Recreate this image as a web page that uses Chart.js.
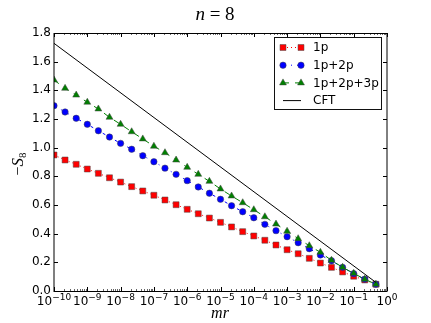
<!DOCTYPE html>
<html>
<head>
<meta charset="utf-8">
<script src="https://cdn.jsdelivr.net/npm/chart.js@4/dist/chart.umd.min.js"></script>
<style>
  html, body { margin: 0; padding: 0; background: #fff; }
  canvas { display: block; }
</style>
</head>
<body>
<canvas id="chart" width="431" height="323"></canvas>
<script>
// mr values (three points per decade)
const mr = [
  1.0e-10, 2.15e-10, 4.64e-10, 1.0e-9, 2.15e-9, 4.64e-9,
  1.0e-8, 2.15e-8, 4.64e-8, 1.0e-7, 2.15e-7, 4.64e-7,
  1.0e-6, 2.15e-6, 4.64e-6, 1.0e-5, 2.15e-5, 4.64e-5,
  1.0e-4, 2.15e-4, 4.64e-4, 1.0e-3, 2.15e-3, 4.64e-3,
  1.0e-2, 2.15e-2, 4.64e-2, 1.0e-1, 2.15e-1, 4.64e-1
]
const s1p = [
  0.949, 0.914, 0.884, 0.851, 0.821, 0.790, 0.760, 0.728, 0.698, 0.668,
  0.635, 0.602, 0.570, 0.539, 0.509, 0.479, 0.447, 0.414, 0.384, 0.354,
  0.321, 0.288, 0.260, 0.228, 0.195, 0.165, 0.133, 0.103, 0.077, 0.047
]
const s1p2p = [
  1.293, 1.249, 1.205, 1.163, 1.118, 1.074, 1.030, 0.989, 0.944, 0.902,
  0.857, 0.814, 0.770, 0.726, 0.682, 0.640, 0.595, 0.553, 0.511, 0.465,
  0.421, 0.379, 0.337, 0.295, 0.251, 0.211, 0.165, 0.121, 0.082, 0.047
]
const s1p2p3p = [
  1.472, 1.414, 1.367, 1.317, 1.270, 1.212, 1.163, 1.111, 1.061, 1.010,
  0.965, 0.914, 0.863, 0.814, 0.765, 0.712, 0.663, 0.616, 0.567, 0.518,
  0.467, 0.417, 0.365, 0.316, 0.270, 0.214, 0.165, 0.123, 0.082, 0.047
]
const cftX = [1.0e-10, 4.64e-1]
const cftY = [1.728, 0.06]

const xTicks = [1e-10, 1e-9, 1e-8, 1e-7, 1e-6, 1e-5, 1e-4, 1e-3, 1e-2, 1e-1, 1e0]
const yTicks = [0, 0.2, 0.4, 0.6, 0.8, 1.0, 1.2, 1.4, 1.6, 1.8]

const pts = (xs, ys) => xs.map((x, i) => ({ x: x, y: ys[i] }))
const expText = v => String(Math.round(Math.log10(v))).replace('-', '\u2212')

const TICK_FONT = { family: 'DejaVu Sans', size: 12 }

function drawMarker(ctx, style, x, y, r, fill, edge) {
  ctx.beginPath()
  if (style === 'rect') {
    const s = Math.SQRT1_2 * r
    ctx.rect(x - s, y - s, 2 * s, 2 * s)
  } else if (style === 'circle') {
    ctx.arc(x, y, r, 0, Math.PI * 2)
  } else if (style === 'triangle') {
    for (let k = 0; k < 3; k++) {
      const a = k * 2 * Math.PI / 3
      const px = x + Math.sin(a) * r, py = y - Math.cos(a) * r
      k === 0 ? ctx.moveTo(px, py) : ctx.lineTo(px, py)
    }
    ctx.closePath()
  } else return
  ctx.fillStyle = fill
  ctx.fill()
  ctx.lineWidth = 0.5
  ctx.strokeStyle = edge
  ctx.stroke()
}

function drawRuns(ctx, runs, x, y) {
  // runs: [{text, font, dy}] centred horizontally at x, baseline y
  let w = 0
  runs.forEach(r => { ctx.font = r.font; r.w = ctx.measureText(r.text).width; w += r.w })
  let cx = x - w / 2
  ctx.textAlign = 'left'
  ctx.textBaseline = 'alphabetic'
  runs.forEach(r => { ctx.font = r.font; ctx.fillText(r.text, cx, y + (r.dy || 0)); cx += r.w })
}

const decor = {
  id: 'decor',
  afterDraw(chart) {
    const { ctx, chartArea: a, scales: { x, y } } = chart
    ctx.save()
    ctx.strokeStyle = '#000'
    ctx.lineWidth = 1
    // inward ticks
    ctx.beginPath()
    yTicks.forEach(v => {
      const py = Math.round(y.getPixelForValue(v)) + 0.5
      ctx.moveTo(a.left, py); ctx.lineTo(a.left + 4, py)
      ctx.moveTo(a.right, py); ctx.lineTo(a.right - 4, py)
    })
    xTicks.forEach(v => {
      const px = Math.round(x.getPixelForValue(v)) + 0.5
      ctx.moveTo(px, a.bottom); ctx.lineTo(px, a.bottom - 4)
      ctx.moveTo(px, a.top); ctx.lineTo(px, a.top + 4)
    })
    ctx.stroke()
    ctx.lineWidth = 0.6
    ctx.beginPath()
    xTicks.slice(0, -1).forEach(d => {
      for (let m = 2; m <= 9; m++) {
        const px = Math.round(x.getPixelForValue(d * m)) + 0.5
        ctx.moveTo(px, a.bottom); ctx.lineTo(px, a.bottom - 2)
        ctx.moveTo(px, a.top); ctx.lineTo(px, a.top + 2)
      }
    })
    ctx.stroke()
    // frame
    ctx.lineWidth = 1
    ctx.strokeRect(a.left, a.top + 0.5, a.right - a.left, a.bottom - a.top)

    // x tick labels: 10 with a raised exponent
    ctx.fillStyle = '#000'
    xTicks.forEach(v => {
      drawRuns(ctx, [
        { text: '10', font: '12px "DejaVu Sans"' },
        { text: expText(v), font: '9px "DejaVu Sans"', dy: -5 }
      ], x.getPixelForValue(v), 305)
    })

    // legend
    const lx = 274.5, ly = 37.5, lw = 107, lh = 72
    ctx.fillStyle = '#fff'
    ctx.fillRect(lx, ly, lw, lh)
    ctx.strokeStyle = '#111'
    ctx.strokeRect(lx, ly, lw, lh)
    chart.data.datasets.forEach((ds, i) => {
      const ry = 47.5 + i * 17.7
      const x0 = 283, x1 = 301
      ctx.save()
      ctx.strokeStyle = ds.borderColor
      ctx.lineWidth = ds.borderWidth
      ctx.setLineDash(ds.borderDash || [])
      ctx.beginPath(); ctx.moveTo(x0, ry); ctx.lineTo(x1, ry); ctx.stroke()
      ctx.restore()
      if (ds.pointRadius > 0) {
        drawMarker(ctx, ds.pointStyle, x0, ry, ds.pointRadius, ds.pointBackgroundColor, ds.pointBorderColor)
        drawMarker(ctx, ds.pointStyle, x1, ry, ds.pointRadius, ds.pointBackgroundColor, ds.pointBorderColor)
      }
      ctx.fillStyle = '#000'
      ctx.font = '12px "DejaVu Sans"'
      ctx.textAlign = 'left'
      ctx.textBaseline = 'middle'
      ctx.fillText(ds.label, 313, ry + 0.5)
    })

    // title and axis labels
    ctx.fillStyle = '#000'
    drawRuns(ctx, [
      { text: 'n', font: 'italic 19px "Liberation Serif"' },
      { text: ' = 8', font: '19px "Liberation Serif"' }
    ], 215, 20)
    drawRuns(ctx, [{ text: 'mr', font: 'italic 16px "Liberation Serif"' }], 220, 318)
    ctx.translate(23, 164)
    ctx.rotate(-Math.PI / 2)
    drawRuns(ctx, [
      { text: '\u2212', font: '16px "Liberation Serif"' },
      { text: 'S', font: 'italic 17px "Liberation Serif"' },
      { text: '8', font: '11px "Liberation Serif"', dy: 3 }
    ], 0, 0)
    ctx.restore()
  }
}

const common = { borderWidth: 1, tension: 0, clip: 0, pointBorderColor: '#444', pointBorderWidth: 0.5 }

new Chart(document.getElementById('chart'), {
  type: 'line',
  data: {
    datasets: [
      Object.assign({}, common, {
        label: '1p', data: pts(mr, s1p), borderColor: '#ff0000', borderDash: [1, 3],
        pointStyle: 'rect', pointRadius: 4.2, pointBackgroundColor: '#ff0000', order: 3
      }),
      Object.assign({}, common, {
        label: '1p+2p', data: pts(mr, s1p2p), borderColor: '#0000ff', borderDash: [3, 5, 1, 5],
        pointStyle: 'circle', pointRadius: 3.2, pointBackgroundColor: '#0000ff', order: 2
      }),
      Object.assign({}, common, {
        label: '1p+2p+3p', data: pts(mr, s1p2p3p), borderColor: '#008000', borderDash: [6, 6],
        pointStyle: 'triangle', pointRadius: 4, pointBackgroundColor: '#008000', order: 1
      }),
      Object.assign({}, common, {
        label: 'CFT', data: pts(cftX, cftY), borderColor: '#000000', borderDash: [],
        pointRadius: 0, order: 0
      })
    ]
  },
  options: {
    responsive: false,
    animation: false,
    devicePixelRatio: 1,
    layout: { padding: { left: 0, right: 44, top: 33, bottom: 0 } },
    plugins: { legend: { display: false }, tooltip: { enabled: false }, title: { display: false } },
    scales: {
      x: {
        type: 'logarithmic', min: 1e-10, max: 1,
        afterBuildTicks: s => { s.ticks = xTicks.map(v => ({ value: v })) },
        afterFit: s => { s.height = 32 },
        grid: { display: false, drawTicks: false },
        border: { display: false },
        ticks: { display: false }
      },
      y: {
        type: 'linear', min: 0, max: 1.8,
        afterBuildTicks: s => { s.ticks = yTicks.map(v => ({ value: v })) },
        afterFit: s => { s.width = 54 },
        grid: { display: false, drawTicks: false },
        border: { display: false },
        ticks: { callback: v => v.toFixed(1), font: TICK_FONT, color: '#000', padding: 3 }
      }
    }
  },
  plugins: [decor]
})
</script>
</body>
</html>
